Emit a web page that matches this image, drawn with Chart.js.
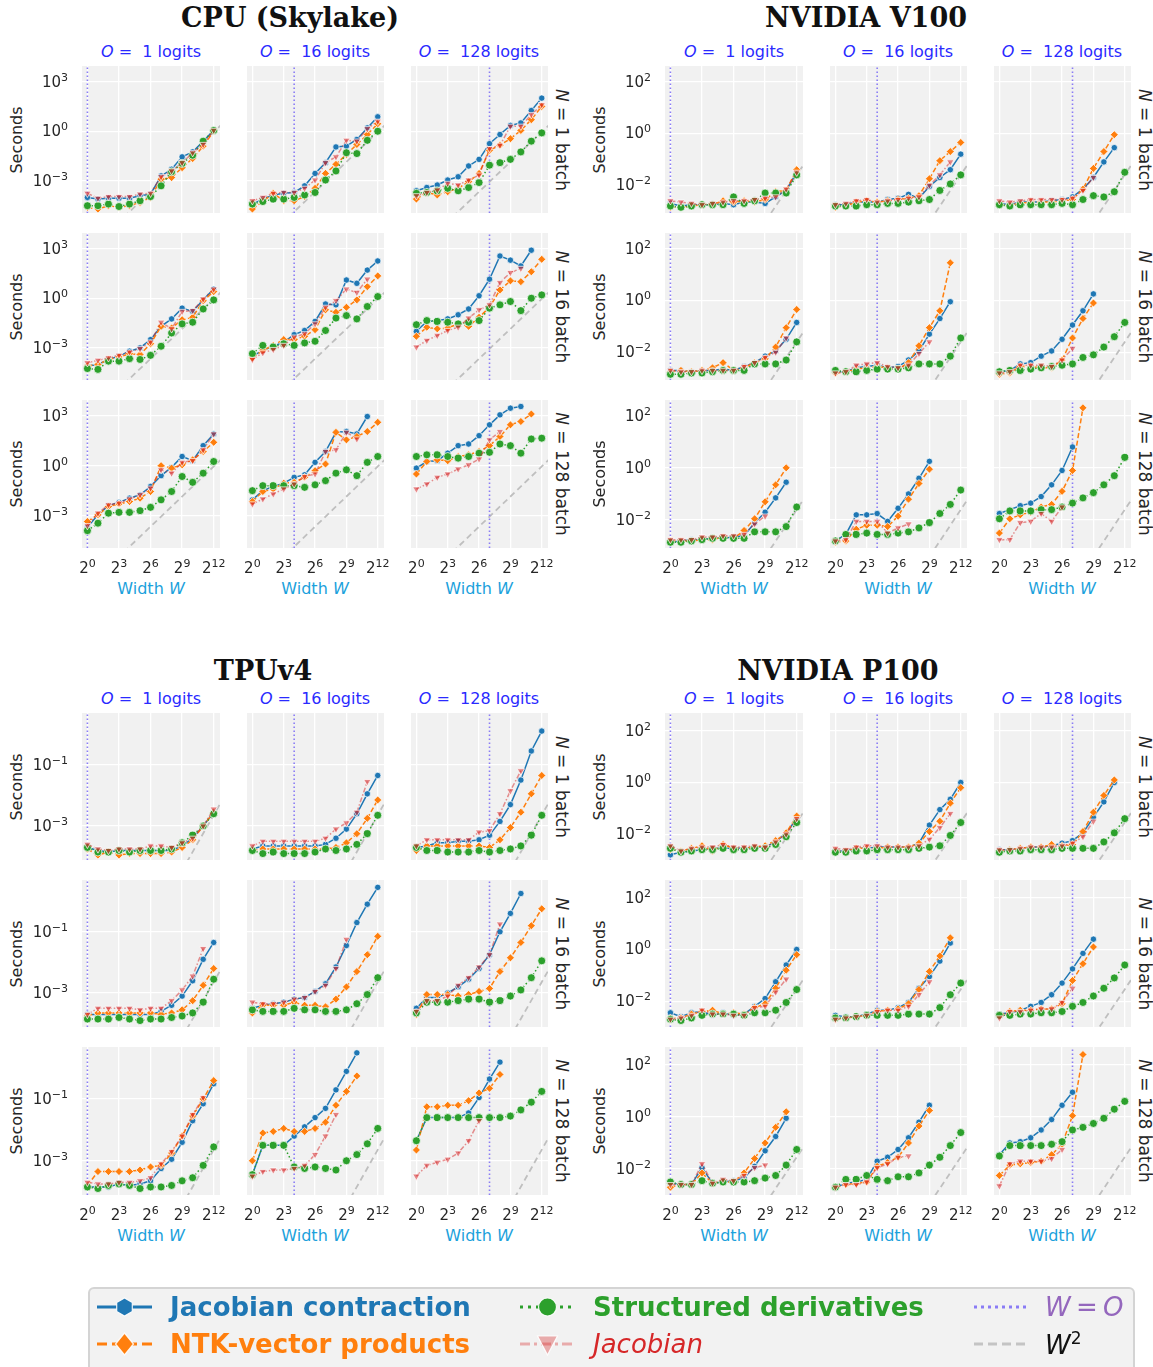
<!DOCTYPE html>
<html><head><meta charset="utf-8">
<script src="https://cdn.jsdelivr.net/npm/chart.js@4.4.1/dist/chart.umd.min.js"></script>
<style>
html,body{margin:0;padding:0;background:#fff;}
body{width:1153px;height:1367px;position:relative;overflow:hidden;font-family:"DejaVu Sans",sans-serif;}
.t{position:absolute;white-space:nowrap;transform:translate(-50%,-50%);line-height:1;}
.l{position:absolute;white-space:nowrap;transform:translate(0,-50%);line-height:1;}
canvas{position:absolute;}
.gt{font-family:"DejaVu Serif",serif;font-weight:bold;font-size:27px;color:#111;}
.ct{font-size:16px;color:#2a2aff;}
.rl{font-size:17px;color:#262626;transform:translate(-50%,-50%) rotate(90deg);}
.yl{font-size:16px;color:#262626;transform:translate(-50%,-50%) rotate(-90deg);}
.xl{font-size:16px;color:#1ba1dc;}
.lg{font-size:26px;}
.ytk{position:absolute;white-space:nowrap;font-size:15px;color:#262626;line-height:15px;transform:translate(-100%,-50%);}
.xtk{position:absolute;white-space:nowrap;font-size:15px;color:#262626;line-height:15px;transform:translate(-50%,-50%);}
.sp{font-size:11px;position:relative;top:-6px;}
</style></head><body>
<script>
// ---------- axes / categories ----------
const W = [1,2,4,8,16,32,64,128,256,512,1024,2048,4096];
const O_VALUES = [1,16,128];
const N_VALUES = [1,16,128];
const X_TICKS = [1,8,64,512,4096];
const X_TICK_LABELS = ['2<span class="sp">0</span>','2<span class="sp">3</span>','2<span class="sp">6</span>','2<span class="sp">9</span>','2<span class="sp">12</span>'];
const CPU_Y_TICKS = [1e-3,1,1e3];
const CPU_Y_TICK_LABELS = ['10<span class="sp">−3</span>','10<span class="sp">0</span>','10<span class="sp">3</span>'];
const GPU_Y_TICKS = [1e-2,1,1e2];
const GPU_Y_TICK_LABELS = ['10<span class="sp">−2</span>','10<span class="sp">0</span>','10<span class="sp">2</span>'];
const TPU_Y_TICKS = [1e-3,1e-1];
const TPU_Y_TICK_LABELS = ['10<span class="sp">−3</span>','10<span class="sp">−1</span>'];
// W^2 reference line, values at W = 1 and W = 8192 (seconds)
const W2_X = [1,8192];
const CPU_W2 = [5.4e-8, 3.6];
const V100_W2 = [1.5e-9, 0.1];
const TPU_W2 = [1.4e-10, 9.1e-3];
const P100_W2 = [1.7e-9, 0.115];

// ---------- series: log10(seconds), at W = 2^0 .. 2^12 ----------
// jc = Jacobian contraction, ntk = NTK-vector products, sd = Structured derivatives, jac = Jacobian
const cpu_n1_o1 = {
 jc:[-4.0,-4.1,-4.05,-4.05,-4.05,-3.9,-3.8,-2.7,-2.3,-1.55,-1.25,-0.6,0.05],
 ntk:[-4.6,-4.7,-4.5,-4.6,-4.5,-4.3,-4.0,-2.9,-2.8,-2.2,-1.65,-0.9,0.0],
 sd:[-4.5,-4.5,-4.4,-4.55,-4.4,-4.2,-3.95,-3.3,-2.45,-1.95,-1.45,-0.6,0.05],
 jac:[-3.75,-4.05,-3.95,-3.95,-3.95,-3.8,-3.75,-2.75,-2.4,-1.9,-1.3,-0.8,0.05]};
const cpu_n1_o16 = {
 jc:[-4.4,-4.1,-3.85,-3.75,-3.7,-3.3,-2.55,-1.9,-0.95,-0.9,-0.5,0.2,0.87],
 ntk:[-4.7,-4.25,-3.75,-4.2,-4.2,-3.95,-3.45,-2.55,-2.0,-1.4,-0.8,-0.2,0.45],
 sd:[-4.4,-4.25,-4.1,-4.1,-4.0,-3.85,-3.7,-2.95,-2.4,-1.3,-1.35,-0.55,0.0],
 jac:[-4.2,-4.0,-3.75,-3.7,-3.7,-3.45,-2.95,-1.9,-1.55,-0.55,-0.6,0.15,0.6]};
const cpu_n1_o128 = {
 jc:[-3.6,-3.4,-3.25,-2.95,-2.75,-2.1,-1.7,-0.75,-0.2,0.35,0.5,1.25,2.0],
 ntk:[-4.1,-3.7,-3.85,-3.65,-3.45,-3.05,-2.55,-1.15,-0.85,-0.45,0.05,0.7,1.5],
 sd:[-3.75,-3.7,-3.6,-3.45,-3.6,-3.4,-3.1,-2.05,-1.9,-1.7,-1.25,-0.6,-0.1],
 jac:[-3.9,-3.7,-3.55,-3.15,-3.25,-2.95,-2.65,-1.05,-0.85,0.3,0.3,1.0,1.6]};
const cpu_n16_o1 = {
 jc:[-4.1,-4.0,-3.7,-3.5,-3.2,-3.0,-2.5,-1.7,-1.25,-0.6,-0.8,-0.1,0.55],
 ntk:[-4.1,-4.0,-3.7,-3.55,-3.35,-3.4,-2.75,-1.7,-1.8,-1.3,-1.15,-0.15,0.4],
 sd:[-4.25,-4.3,-3.8,-3.8,-3.65,-3.7,-3.45,-2.9,-2.1,-1.55,-1.45,-0.65,-0.1],
 jac:[-3.9,-3.75,-3.6,-3.45,-3.25,-3.05,-2.65,-1.45,-1.85,-0.8,-0.75,-0.05,0.55]};
const cpu_n16_o16 = {
 jc:[-3.5,-3.15,-2.9,-2.65,-2.2,-1.95,-1.4,-0.35,-0.4,1.1,0.9,1.7,2.25],
 ntk:[-3.6,-3.15,-2.85,-2.5,-2.5,-2.3,-1.9,-0.7,-0.85,-0.55,-0.1,0.7,1.35],
 sd:[-3.35,-2.85,-2.95,-2.75,-2.85,-2.7,-2.6,-1.95,-1.2,-1.05,-1.25,-0.5,0.1],
 jac:[-3.7,-3.3,-3.1,-2.85,-2.35,-2.15,-1.55,-0.55,-0.15,0.55,0.35,1.15,null]};
const cpu_n16_o128 = {
 jc:[-2.0,-1.4,-1.35,-1.25,-1.0,-0.65,0.15,1.15,2.55,2.3,1.95,2.9,null],
 ntk:[-2.3,-1.75,-1.85,-1.8,-1.55,-1.7,-1.15,-0.55,0.5,1.05,1.0,1.6,2.35],
 sd:[-1.6,-1.35,-1.4,-1.45,-1.55,-1.45,-1.35,-0.6,-0.4,-0.2,-0.75,0.0,0.2],
 jac:[-2.95,-2.55,-2.25,-1.95,-1.75,-1.2,-0.7,-0.4,0.95,1.55,1.8,null,null]};
const cpu_n128_o1 = {
 jc:[-3.7,-2.95,-2.4,-2.2,-1.95,-1.75,-1.25,-0.6,-0.1,0.55,0.3,1.2,1.9],
 ntk:[-3.35,-2.95,-2.45,-2.3,-2.15,-1.95,-1.55,0.0,-0.15,0.05,0.35,0.85,1.4],
 sd:[-3.9,-3.45,-2.85,-2.8,-2.8,-2.7,-2.5,-2.05,-1.55,-0.65,-1.0,-0.45,0.25],
 jac:[-3.6,-2.85,-2.35,-2.25,-2.0,-1.75,-1.35,-0.25,-0.45,0.2,0.3,0.95,1.9]};
const cpu_n128_o16 = {
 jc:[-2.05,-1.5,-1.25,-1.05,-0.7,-0.55,0.2,0.85,2.0,2.05,1.9,2.95,null],
 ntk:[-2.15,-1.55,-1.4,-1.05,-1.0,-0.7,-0.3,0.1,2.0,1.55,1.75,2.05,2.6],
 sd:[-1.5,-1.2,-1.2,-1.2,-1.2,-1.3,-1.15,-0.9,-0.45,-0.25,-0.6,0.2,0.55],
 jac:[-2.3,-2.0,-1.7,-1.4,-1.1,-0.65,-0.5,0.85,0.95,2.0,1.6,null,null]};
const cpu_n128_o128 = {
 jc:[-0.15,0.25,0.3,0.75,1.2,1.3,1.8,2.45,3.05,3.45,3.55,null,null],
 ntk:[-0.5,0.25,0.35,0.3,0.55,0.65,0.85,1.2,1.75,2.45,2.65,3.1,null],
 sd:[0.55,0.65,0.65,0.55,0.45,0.55,0.75,0.8,1.3,1.2,0.75,1.6,1.65],
 jac:[-1.4,-1.1,-0.7,-0.5,-0.2,0.05,0.4,1.55,2.05,null,null,null,null]};

const v100_n1_o1 = {
 jc:[-2.7,-2.8,-2.75,-2.75,-2.75,-2.7,-2.75,-2.65,-2.65,-2.7,-2.45,-2.2,-1.5],
 ntk:[-2.85,-2.85,-2.8,-2.75,-2.75,-2.6,-2.65,-2.6,-2.65,-2.55,-2.25,-2.2,-1.4],
 sd:[-2.8,-2.85,-2.8,-2.75,-2.75,-2.75,-2.45,-2.7,-2.6,-2.3,-2.3,-2.3,-1.6],
 jac:[-2.6,-2.65,-2.7,-2.75,-2.7,-2.65,-2.6,-2.6,-2.55,-2.5,-2.45,-2.15,-1.5]};
const v100_n1_o16 = {
 jc:[-2.75,-2.75,-2.65,-2.65,-2.65,-2.55,-2.5,-2.35,-2.5,-2.05,-1.7,-1.4,-0.8],
 ntk:[-2.85,-2.8,-2.65,-2.6,-2.65,-2.6,-2.55,-2.5,-2.4,-1.75,-1.05,-0.7,-0.35],
 sd:[-2.8,-2.8,-2.8,-2.75,-2.75,-2.7,-2.7,-2.65,-2.6,-2.55,-2.2,-1.95,-1.6],
 jac:[-2.75,-2.7,-2.6,-2.55,-2.65,-2.6,-2.55,-2.5,-2.45,-2.0,-1.6,-1.1,null]};
const v100_n1_o128 = {
 jc:[-2.7,-2.75,-2.65,-2.65,-2.65,-2.6,-2.55,-2.45,-2.15,-1.7,-1.1,-0.55,null],
 ntk:[-2.75,-2.75,-2.7,-2.65,-2.65,-2.65,-2.6,-2.55,-2.15,-1.35,-0.7,-0.05,null],
 sd:[-2.75,-2.8,-2.75,-2.75,-2.75,-2.75,-2.7,-2.75,-2.55,-2.4,-2.45,-2.25,-1.5],
 jac:[-2.6,-2.65,-2.6,-2.55,-2.55,-2.55,-2.55,-2.5,-2.2,-1.7,null,null,null]};
const v100_n16_o1 = {
 jc:[-2.7,-2.7,-2.75,-2.7,-2.7,-2.65,-2.7,-2.55,-2.4,-2.15,-1.95,-1.5,-0.85],
 ntk:[-2.75,-2.7,-2.75,-2.7,-2.6,-2.4,-2.7,-2.6,-2.4,-2.25,-1.8,-1.05,-0.35],
 sd:[-2.85,-2.85,-2.8,-2.8,-2.75,-2.7,-2.7,-2.7,-2.45,-2.45,-2.45,-2.3,-1.6],
 jac:[-2.7,-2.75,-2.75,-2.7,-2.7,-2.7,-2.7,-2.55,-2.4,-2.2,-2.0,-1.45,null]};
const v100_n16_o16 = {
 jc:[-2.75,-2.75,-2.6,-2.55,-2.5,-2.6,-2.55,-2.3,-1.95,-1.3,-0.7,-0.05,null],
 ntk:[-2.8,-2.75,-2.65,-2.6,-2.55,-2.6,-2.65,-2.4,-1.75,-1.05,-0.4,1.45,null],
 sd:[-2.7,-2.75,-2.75,-2.7,-2.65,-2.65,-2.65,-2.6,-2.45,-2.45,-2.45,-2.15,-1.45],
 jac:[-2.8,-2.75,-2.5,-2.45,-2.4,-2.55,-2.6,-2.5,-2.05,-1.6,null,null,null]};
const v100_n16_o128 = {
 jc:[-2.75,-2.7,-2.45,-2.4,-2.15,-1.95,-1.5,-0.95,-0.4,0.25,null,null,null],
 ntk:[-2.85,-2.8,-2.55,-2.55,-2.6,-2.6,-2.3,-1.45,-0.7,-0.1,null,null,null],
 sd:[-2.75,-2.7,-2.7,-2.65,-2.6,-2.55,-2.5,-2.45,-2.2,-2.1,-1.8,-1.4,-0.85],
 jac:[-2.8,-2.75,-2.5,-2.5,-2.5,-2.55,-2.3,-1.85,null,null,null,null,null]};
const v100_n128_o1 = {
 jc:[-2.85,-2.8,-2.75,-2.75,-2.7,-2.7,-2.65,-2.6,-2.1,-1.7,-1.15,-0.55,null],
 ntk:[-2.8,-2.8,-2.8,-2.75,-2.75,-2.65,-2.7,-2.4,-1.95,-1.3,-0.65,0.0,null],
 sd:[-2.85,-2.85,-2.8,-2.75,-2.7,-2.7,-2.7,-2.7,-2.45,-2.45,-2.45,-2.25,-1.5],
 jac:[-2.75,-2.75,-2.75,-2.65,-2.65,-2.6,-2.6,-2.55,-2.15,-1.85,null,null,null]};
const v100_n128_o16 = {
 jc:[-2.8,-2.55,-1.8,-1.8,-1.75,-2.05,-1.55,-1.0,-0.4,0.25,null,null,null],
 ntk:[-2.85,-2.8,-2.35,-2.2,-2.2,-2.25,-1.85,-1.2,-0.6,-0.05,null,null,null],
 sd:[-2.8,-2.55,-2.55,-2.5,-2.55,-2.55,-2.5,-2.45,-2.3,-2.1,-1.75,-1.4,-0.85],
 jac:[-2.8,-2.75,-2.05,-2.05,-2.05,-2.5,-2.3,-2.15,null,null,null,null,null]};
const v100_n128_o128 = {
 jc:[-1.75,-1.6,-1.45,-1.35,-1.1,-0.65,-0.1,0.8,null,null,null,null,null],
 ntk:[-2.5,-1.95,-1.8,-1.7,-1.5,-1.4,-0.9,-0.1,2.3,null,null,null,null],
 sd:[-1.95,-1.65,-1.65,-1.65,-1.6,-1.6,-1.5,-1.35,-1.15,-0.95,-0.65,-0.3,0.4],
 jac:[-2.75,-2.75,-2.1,-2.05,-1.75,-2.05,-1.5,null,null,null,null,null,null]};

const tpu_n1_o1 = {
 jc:[-3.7,-3.8,-3.85,-3.8,-3.8,-3.8,-3.8,-3.8,-3.8,-3.65,-3.4,-3.0,-2.55],
 ntk:[-3.75,-3.95,-3.85,-3.95,-3.9,-3.9,-3.9,-3.9,-3.85,-3.7,-3.45,-3.0,-2.55],
 sd:[-3.7,-3.85,-3.85,-3.8,-3.85,-3.8,-3.8,-3.8,-3.75,-3.55,-3.3,-3.0,-2.6],
 jac:[-3.6,-3.75,-3.8,-3.75,-3.75,-3.75,-3.65,-3.65,-3.7,-3.55,-3.4,-3.0,-2.45]};
const tpu_n1_o16 = {
 jc:[-3.75,-3.65,-3.65,-3.65,-3.65,-3.65,-3.65,-3.6,-3.4,-3.1,-2.6,-1.95,-1.35],
 ntk:[-3.8,-3.75,-3.75,-3.75,-3.75,-3.75,-3.75,-3.75,-3.7,-3.55,-3.25,-2.75,-2.15],
 sd:[-3.8,-3.9,-3.85,-3.9,-3.9,-3.9,-3.85,-3.75,-3.8,-3.75,-3.6,-3.25,-2.65],
 jac:[-3.65,-3.5,-3.5,-3.5,-3.5,-3.5,-3.5,-3.4,-3.1,-2.9,-2.55,-1.55,null]};
const tpu_n1_o128 = {
 jc:[-3.7,-3.65,-3.55,-3.55,-3.5,-3.5,-3.45,-3.3,-2.85,-2.3,-1.5,-0.55,0.1],
 ntk:[-3.8,-3.65,-3.65,-3.65,-3.65,-3.65,-3.65,-3.7,-3.45,-3.05,-2.55,-1.95,-1.35],
 sd:[-3.7,-3.8,-3.8,-3.85,-3.85,-3.85,-3.8,-3.85,-3.8,-3.75,-3.65,-3.3,-2.65],
 jac:[-3.65,-3.45,-3.45,-3.45,-3.45,-3.45,-3.2,-3.15,-2.6,-1.85,-1.2,null,null]};
const tpu_n16_o1 = {
 jc:[-3.7,-3.7,-3.7,-3.7,-3.7,-3.7,-3.7,-3.6,-3.4,-3.1,-2.6,-1.9,-1.35],
 ntk:[-3.75,-3.65,-3.65,-3.65,-3.65,-3.65,-3.65,-3.7,-3.65,-3.55,-3.25,-2.75,-2.2],
 sd:[-3.85,-3.85,-3.85,-3.8,-3.85,-3.9,-3.85,-3.85,-3.8,-3.75,-3.65,-3.3,-2.55],
 jac:[-3.7,-3.5,-3.5,-3.5,-3.5,-3.55,-3.5,-3.5,-3.25,-2.9,-2.45,-1.55,null]};
const tpu_n16_o16 = {
 jc:[-3.5,-3.4,-3.35,-3.3,-3.2,-3.15,-2.95,-2.7,-2.15,-1.45,-0.7,-0.1,0.45],
 ntk:[-3.65,-3.4,-3.4,-3.4,-3.3,-3.4,-3.4,-3.45,-3.2,-2.8,-2.3,-1.75,-1.15],
 sd:[-3.55,-3.6,-3.6,-3.6,-3.5,-3.55,-3.55,-3.6,-3.6,-3.55,-3.35,-3.05,-2.5],
 jac:[-3.3,-3.35,-3.35,-3.3,-3.2,-3.15,-2.95,-2.75,-2.2,-1.25,null,null,null]};
const tpu_n16_o128 = {
 jc:[-3.5,-3.15,-3.15,-3.0,-2.8,-2.55,-2.2,-1.75,-1.0,-0.4,0.25,null,null],
 ntk:[-3.7,-3.05,-3.05,-3.05,-3.1,-3.05,-2.95,-2.85,-2.3,-1.85,-1.35,-0.8,-0.25],
 sd:[-3.65,-3.3,-3.3,-3.3,-3.25,-3.2,-3.2,-3.3,-3.25,-3.1,-2.9,-2.5,-1.95],
 jac:[-3.6,-3.25,-3.25,-3.1,-2.75,-2.5,-2.15,-1.75,-0.75,null,null,null,null]};
const tpu_n128_o1 = {
 jc:[-3.85,-3.85,-3.85,-3.75,-3.8,-3.75,-3.65,-3.25,-2.95,-2.4,-1.7,-1.15,-0.5],
 ntk:[-3.8,-3.35,-3.35,-3.35,-3.35,-3.3,-3.2,-3.15,-2.75,-2.2,-1.55,-1.0,-0.4],
 sd:[-3.85,-3.9,-3.8,-3.75,-3.8,-3.9,-3.85,-3.85,-3.8,-3.65,-3.55,-3.15,-2.55],
 jac:[-3.7,-3.75,-3.75,-3.7,-3.7,-3.65,-3.55,-3.1,-2.7,-2.2,-1.5,-0.95,null]};
const tpu_n128_o16 = {
 jc:[-3.45,-2.5,-2.5,-2.5,-2.2,-1.9,-1.6,-1.3,-0.7,-0.1,0.5,null,null],
 ntk:[-3.0,-2.1,-2.05,-1.95,-2.05,-2.05,-1.95,-1.75,-1.2,-0.75,-0.25,null,null],
 sd:[-3.45,-2.5,-2.5,-2.5,-3.2,-3.25,-3.2,-3.25,-3.3,-3.0,-2.8,-2.45,-1.95],
 jac:[-3.5,-3.35,-3.3,-3.3,-3.25,-3.15,-2.8,-2.2,-1.5,null,null,null,null]};
const tpu_n128_o128 = {
 jc:[-2.35,-1.6,-1.6,-1.6,-1.6,-1.45,-0.95,-0.35,0.2,null,null,null,null],
 ntk:[-2.65,-1.25,-1.25,-1.2,-1.2,-1.05,-0.8,-0.65,-0.2,null,null,null,null],
 sd:[-2.35,-1.6,-1.6,-1.6,-1.6,-1.6,-1.6,-1.6,-1.6,-1.55,-1.35,-1.1,-0.75],
 jac:[-3.5,-3.15,-3.05,-2.95,-2.75,-2.35,-1.7,null,null,null,null,null,null]};

const p100_n1_o1 = {
 jc:[-2.8,-2.7,-2.65,-2.6,-2.55,-2.55,-2.55,-2.55,-2.5,-2.5,-2.3,-1.95,-1.4],
 ntk:[-2.6,-2.65,-2.55,-2.45,-2.65,-2.4,-2.55,-2.55,-2.5,-2.45,-2.25,-1.95,-1.3],
 sd:[-2.55,-2.7,-2.65,-2.6,-2.6,-2.55,-2.6,-2.6,-2.55,-2.55,-2.4,-2.1,-1.55],
 jac:[-2.45,-2.65,-2.55,-2.5,-2.5,-2.4,-2.5,-2.5,-2.45,-2.5,-2.3,-2.0,-1.4]};
const p100_n1_o16 = {
 jc:[-2.65,-2.65,-2.55,-2.55,-2.5,-2.5,-2.5,-2.5,-2.35,-1.65,-1.05,-0.65,0.0],
 ntk:[-2.65,-2.65,-2.55,-2.55,-2.55,-2.5,-2.5,-2.5,-2.35,-1.9,-1.5,-0.8,-0.2],
 sd:[-2.7,-2.7,-2.65,-2.65,-2.6,-2.6,-2.6,-2.6,-2.55,-2.5,-2.45,-2.05,-1.55],
 jac:[-2.55,-2.6,-2.5,-2.45,-2.45,-2.5,-2.5,-2.5,-2.45,-2.2,-1.75,-1.2,null]};
const p100_n1_o128 = {
 jc:[-2.6,-2.6,-2.55,-2.5,-2.5,-2.45,-2.35,-2.25,-1.95,-1.35,-0.75,0.0,null],
 ntk:[-2.65,-2.6,-2.55,-2.5,-2.5,-2.4,-2.45,-2.4,-1.9,-1.15,-0.5,0.1,null],
 sd:[-2.7,-2.65,-2.65,-2.6,-2.6,-2.6,-2.55,-2.55,-2.55,-2.55,-2.3,-1.95,-1.4],
 jac:[-2.6,-2.6,-2.55,-2.5,-2.5,-2.5,-2.45,-2.35,-2.1,-1.5,null,null,null]};
const p100_n16_o1 = {
 jc:[-2.45,-2.6,-2.45,-2.4,-2.55,-2.45,-2.55,-2.5,-2.2,-1.9,-1.25,-0.6,0.0],
 ntk:[-2.65,-2.65,-2.5,-2.4,-2.35,-2.5,-2.45,-2.5,-2.25,-2.1,-1.5,-0.8,-0.2],
 sd:[-2.7,-2.75,-2.65,-2.55,-2.5,-2.5,-2.5,-2.55,-2.45,-2.45,-2.35,-2.05,-1.55],
 jac:[-2.7,-2.65,-2.55,-2.35,-2.5,-2.5,-2.55,-2.55,-2.25,-2.2,-1.65,-1.15,null]};
const p100_n16_o16 = {
 jc:[-2.55,-2.6,-2.6,-2.5,-2.35,-2.35,-2.25,-2.05,-1.5,-1.05,-0.45,0.25,null],
 ntk:[-2.7,-2.65,-2.6,-2.55,-2.4,-2.35,-2.3,-2.1,-1.55,-0.85,-0.25,0.45,null],
 sd:[-2.65,-2.65,-2.6,-2.55,-2.55,-2.55,-2.55,-2.5,-2.5,-2.5,-2.25,-1.75,-1.3],
 jac:[-2.7,-2.65,-2.6,-2.55,-2.4,-2.35,-2.35,-2.2,-1.75,-1.25,null,null,null]};
const p100_n16_o128 = {
 jc:[-2.5,-2.45,-2.35,-2.2,-2.05,-1.75,-1.3,-0.75,-0.15,0.4,null,null,null],
 ntk:[-2.55,-2.4,-2.35,-2.35,-2.3,-2.3,-2.1,-1.2,-0.55,0.1,null,null,null],
 sd:[-2.55,-2.55,-2.5,-2.5,-2.45,-2.45,-2.4,-2.2,-2.05,-1.8,-1.5,-1.1,-0.6],
 jac:[-2.65,-2.4,-2.4,-2.35,-2.3,-2.3,-2.05,-1.5,null,null,null,null,null]};
const p100_n128_o1 = {
 jc:[-2.55,-2.6,-2.6,-1.95,-2.55,-2.5,-2.45,-2.35,-1.9,-1.3,-0.75,-0.05,null],
 ntk:[-2.7,-2.6,-2.6,-2.15,-2.55,-2.5,-2.5,-2.15,-1.6,-1.0,-0.4,0.2,null],
 sd:[-2.5,-2.6,-2.6,-2.45,-2.55,-2.5,-2.5,-2.5,-2.45,-2.35,-2.25,-1.85,-1.25],
 jac:[-2.6,-2.6,-2.6,-1.8,-2.55,-2.4,-2.45,-2.25,-1.95,-1.85,null,null,null]};
const p100_n128_o16 = {
 jc:[-2.7,-2.55,-2.5,-2.4,-1.7,-1.55,-1.25,-0.8,-0.2,0.45,null,null,null],
 ntk:[-2.7,-2.6,-2.55,-2.5,-1.9,-1.75,-1.55,-1.0,-0.35,0.25,null,null,null],
 sd:[-2.7,-2.4,-2.4,-2.25,-2.4,-2.45,-2.3,-2.3,-2.15,-1.85,-1.55,-1.1,-0.6],
 jac:[-2.7,-2.6,-2.6,-2.5,-1.95,-1.8,-1.55,-1.5,null,null,null,null,null]};
const p100_n128_o128 = {
 jc:[-1.45,-1.0,-0.95,-0.8,-0.5,-0.1,0.45,0.95,null,null,null,null,null],
 ntk:[-2.25,-1.85,-1.8,-1.75,-1.7,-1.45,-1.05,0.05,2.4,null,null,null,null],
 sd:[-1.5,-1.1,-1.1,-1.1,-1.1,-1.05,-0.95,-0.5,-0.4,-0.25,-0.05,0.3,0.6],
 jac:[-2.65,-1.8,-1.7,-1.7,-1.7,-1.6,-1.25,null,null,null,null,null,null]};

// ---------- layout ----------
const PW = 138, PH = 148, COL_STEP = 164, ROW_STEP = 167;
const X_MIN = 0.72, X_MAX = 6200;
const GROUPS = [
 {title:'CPU (Skylake)', tx:290, ty:17, left:82, top:66, ylo:-4.94, yhi:3.94,
  yt:CPU_Y_TICKS, ytl:CPU_Y_TICK_LABELS, w2:CPU_W2,
  panels:[[cpu_n1_o1,cpu_n1_o16,cpu_n1_o128],[cpu_n16_o1,cpu_n16_o16,cpu_n16_o128],[cpu_n128_o1,cpu_n128_o16,cpu_n128_o128]]},
 {title:'NVIDIA V100', tx:866, ty:17, left:665, top:66, ylo:-3.07, yhi:2.6,
  yt:GPU_Y_TICKS, ytl:GPU_Y_TICK_LABELS, w2:V100_W2,
  panels:[[v100_n1_o1,v100_n1_o16,v100_n1_o128],[v100_n16_o1,v100_n16_o16,v100_n16_o128],[v100_n128_o1,v100_n128_o16,v100_n128_o128]]},
 {title:'TPUv4', tx:263, ty:670, left:82, top:713, ylo:-4.11, yhi:0.69,
  yt:TPU_Y_TICKS, ytl:TPU_Y_TICK_LABELS, w2:TPU_W2,
  panels:[[tpu_n1_o1,tpu_n1_o16,tpu_n1_o128],[tpu_n16_o1,tpu_n16_o16,tpu_n16_o128],[tpu_n128_o1,tpu_n128_o16,tpu_n128_o128]]},
 {title:'NVIDIA P100', tx:838, ty:670, left:665, top:713, ylo:-3.0, yhi:2.69,
  yt:GPU_Y_TICKS, ytl:GPU_Y_TICK_LABELS, w2:P100_W2,
  panels:[[p100_n1_o1,p100_n1_o16,p100_n1_o128],[p100_n16_o1,p100_n16_o16,p100_n16_o128],[p100_n128_o1,p100_n128_o16,p100_n128_o128]]}
];

const STYLE = {
 jc:{color:'#1f77b4', fill:'#1f77b4', dash:[], ps:'circle', r:3.2, rot:0, order:3},
 ntk:{color:'#ff7f0e', fill:'#ff7f0e', dash:[5,2.5], ps:'rectRot', r:4, rot:0, order:2},
 sd:{color:'#2ca02c', fill:'#2ca02c', dash:[1.5,2.5], ps:'circle', r:4, rot:0, order:1},
 jac:{color:'rgba(214,39,40,0.5)', fill:'rgba(214,39,40,0.55)', dash:[5,2,1.5,2], ps:'triangle', r:4.2, rot:180, order:0}
};

function addText(html, x, y, cls){
  const d = document.createElement('div');
  d.className = cls; d.innerHTML = html;
  d.style.left = x+'px'; d.style.top = y+'px';
  document.body.appendChild(d);
  return d;
}

const bgPlugin = {id:'bg', beforeDraw(chart){
  const {ctx, chartArea:a} = chart;
  ctx.save(); ctx.fillStyle = '#f1f1f1';
  ctx.fillRect(a.left, a.top, a.right-a.left, a.bottom-a.top); ctx.restore();
}};

function makePanel(g, r, c){
  const data = g.panels[r][c];
  const padL = c===0 ? 50 : 4, padB = r===2 ? 34 : 4, padT = 5, padR = 5;
  const x0 = g.left + c*COL_STEP, y0 = g.top + r*ROW_STEP;
  const cx0 = x0 - padL, cy0 = y0 - padT;
  const cv = document.createElement('canvas');
  cv.width = PW + padL + padR; cv.height = PH + padT + padB;
  cv.style.left = cx0+'px'; cv.style.top = cy0+'px';
  document.body.appendChild(cv);
  const ymin = Math.pow(10, g.ylo), ymax = Math.pow(10, g.yhi);
  const O = O_VALUES[c];
  const datasets = [];
  ['jc','ntk','sd','jac'].forEach(k => {
    const s = STYLE[k];
    datasets.push({
      data: W.map((w,i) => ({x:w, y: data[k][i]==null ? null : Math.pow(10, data[k][i])})),
      borderColor:s.color, backgroundColor:s.fill, borderWidth:1.5, borderDash:s.dash,
      pointStyle:s.ps, pointRadius:s.r, pointRotation:s.rot, pointBorderColor:'rgba(255,255,255,0.9)',
      pointBorderWidth:0.8, pointBackgroundColor:s.fill, order:s.order, spanGaps:false, tension:0
    });
  });
  datasets.push({data: W2_X.map((w,i)=>({x:w, y:g.w2[i]})), borderColor:'#bfbfbf', borderWidth:1.8,
    borderDash:[6,4], pointRadius:0, order:10, clip:0});
  datasets.push({data:[{x:O,y:ymin},{x:O,y:ymax}], borderColor:'#8a7cf5', borderWidth:1.6,
    borderDash:[1.6,2.4], pointRadius:0, order:9, clip:0});
  const chart = new Chart(cv, {
    type:'line',
    data:{datasets},
    plugins:[bgPlugin],
    options:{
      responsive:false, animation:false, devicePixelRatio:1, events:[],
      layout:{padding:{left:0, right:padR, top:padT, bottom:0}},
      plugins:{legend:{display:false}, tooltip:{enabled:false}},
      scales:{
        x:{type:'logarithmic', min:X_MIN, max:X_MAX,
          grid:{color:'#ffffff', lineWidth:1.3, drawTicks:false}, border:{display:false},
          afterBuildTicks:(s)=>{ s.ticks = X_TICKS.map(v=>({value:v})); },
          afterFit:(s)=>{ s.height = padB; s.paddingLeft=0; s.paddingRight=0; },
          ticks:{display:false}
        },
        y:{type:'logarithmic', min:ymin, max:ymax,
          grid:{color:'#ffffff', lineWidth:1.3, drawTicks:false}, border:{display:false},
          afterBuildTicks:(s)=>{ s.ticks = g.yt.map(v=>({value:v})); },
          afterFit:(s)=>{ s.width = padL; s.paddingTop=0; s.paddingBottom=0; },
          ticks:{display:false}
        }
      }
    }
  });
  // tick labels as text, positioned from the chart's own scales
  if (c===0){
    g.yt.forEach((v,i) => {
      addText(g.ytl[i], cx0 + chart.chartArea.left - 14, cy0 + chart.scales.y.getPixelForValue(v) + 1, 'ytk');
    });
  }
  if (r===2){
    X_TICKS.forEach((v,i) => {
      addText(X_TICK_LABELS[i], cx0 + chart.scales.x.getPixelForValue(v), cy0 + chart.chartArea.bottom + 21, 'xtk');
    });
  }
}

GROUPS.forEach(g => {
  addText(g.title, g.tx, g.ty, 't gt');
  for (let c=0;c<3;c++){
    const cx = g.left + c*COL_STEP + PW/2;
    addText('<i>O</i> = &nbsp;'+O_VALUES[c]+' logits', cx, g.top-14, 't ct');
    addText('Width <i>W</i>', cx, g.top + 2*ROW_STEP + PH + 41, 't xl');
  }
  for (let r=0;r<3;r++){
    const cy = g.top + r*ROW_STEP + PH/2;
    addText('Seconds', g.left-65, cy, 't yl');
    addText('<i>N</i> = '+N_VALUES[r]+' batch', g.left + 2*COL_STEP + PW + 13, cy, 't rl');
    for (let c=0;c<3;c++) makePanel(g, r, c);
  }
});

// ---------- legend ----------
const box = document.createElement('div');
Object.assign(box.style, {position:'absolute', left:'88px', top:'1287px', width:'1043px', height:'90px',
  background:'#f2f2f2', border:'2px solid #d4d4d4', borderRadius:'6px'});
document.body.appendChild(box);
const lc = document.createElement('canvas');
lc.width = 1153; lc.height = 90; lc.style.left='0px'; lc.style.top='1280px';
document.body.appendChild(lc);
const ctx = lc.getContext('2d');
function legLine(x1,x2,y,color,dash,w){
  ctx.save(); ctx.strokeStyle=color; ctx.lineWidth=w; ctx.setLineDash(dash);
  ctx.beginPath(); ctx.moveTo(x1,y); ctx.lineTo(x2,y); ctx.stroke(); ctx.restore();
}
function legMarker(kind,x,y,fill){
  ctx.save(); ctx.fillStyle=fill; ctx.strokeStyle='rgba(255,255,255,0.9)'; ctx.lineWidth=1.2;
  ctx.beginPath();
  if(kind==='hex'){ for(let i=0;i<6;i++){ const a=Math.PI/2+i*Math.PI/3; ctx.lineTo(x+9*Math.cos(a), y-9*Math.sin(a)); } ctx.closePath(); }
  else if(kind==='dia'){ ctx.moveTo(x,y-11); ctx.lineTo(x+9,y); ctx.lineTo(x,y+11); ctx.lineTo(x-9,y); ctx.closePath(); }
  else if(kind==='circ'){ ctx.arc(x,y,9,0,Math.PI*2); }
  else if(kind==='tri'){ ctx.moveTo(x-10,y-8); ctx.lineTo(x+10,y-8); ctx.lineTo(x,y+11); ctx.closePath(); }
  ctx.fill(); ctx.stroke(); ctx.restore();
}
const R1 = 27, R2 = 64;
legLine(97,152,R1,'#1f77b4',[],3); legMarker('hex',124.5,R1,'#1f77b4');
legLine(97,152,R2,'#ff7f0e',[10,5],3); legMarker('dia',124.5,R2,'#ff7f0e');
legLine(520,575,R1,'#2ca02c',[3,5],3); legMarker('circ',547.5,R1,'#2ca02c');
legLine(520,575,R2,'rgba(214,39,40,0.35)',[10,4,3,4],3); legMarker('tri',547.5,R2,'rgba(214,39,40,0.35)');
legLine(974,1027,R1,'#8a7cf5',[3,4],3);
legLine(974,1027,R2,'#c4c4c4',[9,5],3);
addText('<b>Jacobian contraction</b>', 170, 1307, 'l lg').style.color='#1f77b4';
addText('<b>NTK-vector products</b>', 170, 1344, 'l lg').style.color='#ff7f0e';
addText('<b>Structured derivatives</b>', 593, 1307, 'l lg').style.color='#2ca02c';
addText('<i>Jacobian</i>', 593, 1344, 'l lg').style.color='#d62728';
addText('<i>W</i>&thinsp;=&thinsp;<i>O</i>', 1045, 1307, 'l lg').style.color='#9467bd';
addText('<i>W</i><sup style="font-size:17px;font-style:normal">2</sup>', 1045, 1344, 'l lg').style.color='#111';
</script>
</body></html>
